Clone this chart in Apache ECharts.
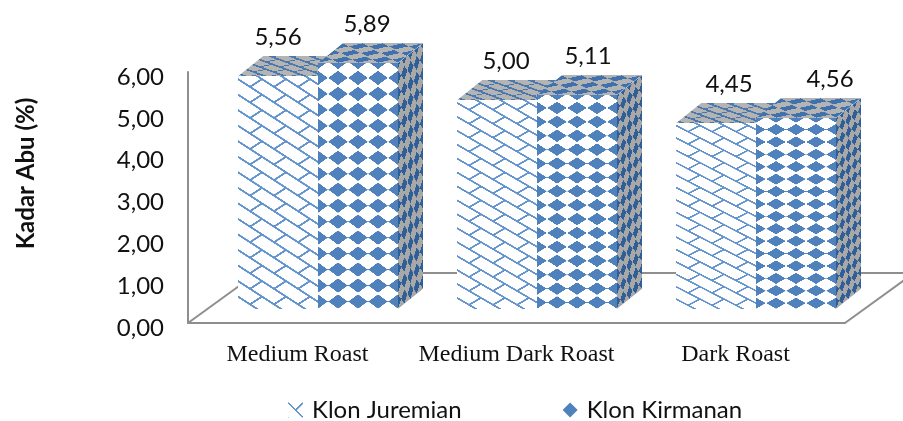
<!DOCTYPE html>
<html>
<head>
<meta charset="utf-8">
<style>html,body{margin:0;padding:0;background:#fff}#chart{width:903px;height:421px}</style>
<script src="https://cdn.jsdelivr.net/npm/echarts@6/dist/echarts.min.js"></script>
</head>
<body>
<div id="chart"></div>
<script>
// Ash content per roast level, one array per coffee clone
const categories = ['Medium Roast', 'Medium Dark Roast', 'Dark Roast'];
const klonJuremian = [5.56, 5.00, 4.45];
const klonKirmanan = [5.89, 5.11, 4.56];
const seriesNames = ['Klon Juremian', 'Klon Kirmanan'];

// Hand placement of the value labels, relative to each bar's centre
const labelShiftJuremian = [0, 9, 13];
const labelShiftKirmanan = [9, 11, 34];

const FONT = 'Lato, sans-serif';
const INK = '#111111';
const AXIS = '#8e8e8e';
const BLUE = '#4f81bd';
const DARK_BLUE = '#2f5f96';
const SHADE = '#a8a8a8';

// Box projection: depth vector of the bars and their lift above the front floor edge
const DEPTH_X = 25, DEPTH_Y = 20, LIFT_X = 20, LIFT_Y = 14;
const BAR_RATIO = 80 / 219;
const FLOOR_X = 69, FLOOR_Y = 50;
const TILE = 96;

function newCanvas(w, h) {
  const c = document.createElement('canvas');
  c.width = Math.max(1, Math.ceil(w));
  c.height = Math.max(1, Math.ceil(h));
  return c;
}

// Rounded diamond on a square repeat, centred on the tile corners
function diamondTile(fg, bg) {
  const c = newCanvas(TILE, TILE), g = c.getContext('2d');
  g.fillStyle = bg;
  g.fillRect(0, 0, TILE, TILE);
  g.fillStyle = fg;
  const a = TILE * 0.49, b = TILE * 0.45, k = 0.48;
  [[0, 0], [TILE, 0], [0, TILE], [TILE, TILE]].forEach(function (p) {
    const x = p[0], y = p[1];
    g.beginPath();
    g.moveTo(x - a, y);
    g.quadraticCurveTo(x - a * k, y - b * k, x, y - b);
    g.quadraticCurveTo(x + a * k, y - b * k, x + a, y);
    g.quadraticCurveTo(x + a * k, y + b * k, x, y + b);
    g.quadraticCurveTo(x - a * k, y + b * k, x - a, y);
    g.fill();
  });
  return c;
}

// Diagonal brick hatch: long falling courses with short rising ties
function brickTile(fg, bg, weight) {
  const c = newCanvas(TILE, TILE), g = c.getContext('2d');
  g.fillStyle = bg;
  g.fillRect(0, 0, TILE, TILE);
  g.strokeStyle = fg;
  g.lineWidth = weight;
  for (let i = -1; i <= 1; i++) {
    for (let j = -1; j <= 1; j++) {
      const ox = i * TILE, oy = j * TILE;
      g.beginPath();
      g.moveTo(ox, oy);
      g.lineTo(ox + TILE, oy + TILE);
      g.moveTo(ox + TILE / 2, oy + TILE / 2);
      g.lineTo(ox + TILE, oy);
      g.stroke();
    }
  }
  return c;
}

const tiles = {
  diamondFront: diamondTile(BLUE, '#ffffff'),
  diamondTop: diamondTile('#3f72ac', '#b4b4b4'),
  diamondSide: diamondTile(DARK_BLUE, SHADE),
  brickFront: brickTile('#6394cd', '#ffffff', 10),
  brickTop: brickTile('#4a78ad', '#b4b4b4', 16)
};

// Paints a tile across one box face and returns it as a fill anchored at (x, y)
function faceFill(tile, x, y, cw, ch, matrix, w, h, tileW, tileH, phaseX, phaseY) {
  const c = newCanvas(cw, ch), g = c.getContext('2d');
  g.setTransform.apply(g, matrix);
  g.beginPath();
  g.rect(0, 0, w, h);
  g.clip();
  g.translate(phaseX, phaseY);
  g.scale(tileW / TILE, tileH / TILE);
  g.fillStyle = g.createPattern(tile, 'repeat');
  g.fillRect(-TILE * 2, -TILE * 2, (w / tileW + 4) * TILE, (h / tileH + 4) * TILE);
  return { image: c, repeat: 'no-repeat', x: x, y: y };
}

function valueText(v) {
  return v.toFixed(2).replace('.', ',');
}

function boxRenderer(slot, kind, rows, shifts) {
  return function (params, api) {
    const value = api.value(1);
    const top = api.coord([api.value(0), value]);
    const base = api.coord([api.value(0), 0]);
    const w = Math.round(api.size([1, 0])[0] * BAR_RATIO);
    const x0 = Math.round(top[0] + LIFT_X + slot * w);
    const y0 = Math.round(top[1] - LIFT_Y);
    const y1 = Math.round(base[1] - LIFT_Y);
    const h = y1 - y0;
    const rowH = h / rows;
    const colW = w / 4;
    const dx = DEPTH_X, dy = DEPTH_Y;
    const isDiamond = kind === 'diamond';
    const frontW = isDiamond ? colW : 24;
    const frontPhaseY = isDiamond ? rowH * 0.93 : rowH * 0.2;

    const front = faceFill(isDiamond ? tiles.diamondFront : tiles.brickFront,
      x0, y0, w, h, [1, 0, 0, 1, 0, 0], w, h, frontW, rowH, 0, frontPhaseY);
    const topFace = faceFill(isDiamond ? tiles.diamondTop : tiles.brickTop,
      x0, y0 - dy, w + dx, dy, [1, 0, -dx / dy, 1, dx, 0], w, dy,
      colW, dy / (isDiamond ? 3 : 4), 0, dy / 6);
    const side = faceFill(tiles.diamondSide,
      x0 + w, y0 - dy, dx, h + dy, [1, -dy / dx, 0, 1, 0, dy], dx, h,
      dx / 4, rowH, 0, frontPhaseY);

    const poly = function (points, fill) {
      return { type: 'polygon', shape: { points: points }, style: { fill: fill } };
    };
    return {
      type: 'group',
      children: [
        poly([[x0, y0], [x0 + w, y0], [x0 + w + dx, y0 - dy], [x0 + dx, y0 - dy]], topFace),
        poly([[x0 + w, y0], [x0 + w + dx, y0 - dy], [x0 + w + dx, y1 - dy], [x0 + w, y1]], side),
        { type: 'rect', shape: { x: x0, y: y0, width: w, height: h }, style: { fill: front } },
        {
          type: 'text',
          style: {
            text: valueText(value),
            x: x0 + w / 2 + shifts[params.dataIndex],
            y: y0 - 39,
            align: 'center',
            verticalAlign: 'middle',
            font: '24px ' + FONT,
            fill: INK
          }
        }
      ]
    };
  };
}

// Floor of the 3D plot: two receding edges and the rear edge behind the bars
function floorRenderer(params) {
  const r = params.coordSys;
  const left = r.x, right = r.x + r.width, bottom = r.y + r.height;
  const line = function (a, b, c, d) {
    return {
      type: 'line',
      shape: { x1: a, y1: b, x2: c, y2: d },
      style: { stroke: AXIS, lineWidth: 2, fill: null }
    };
  };
  return {
    type: 'group',
    children: [
      line(left, bottom, left + FLOOR_X, bottom - FLOOR_Y),
      line(right, bottom, right + FLOOR_X, bottom - FLOOR_Y),
      line(left + FLOOR_X, bottom - FLOOR_Y, right + FLOOR_X, bottom - FLOOR_Y)
    ]
  };
}

const pairs = function (values) {
  return values.map(function (v, i) { return [i, v]; });
};

const chart = echarts.init(document.getElementById('chart'), null, { renderer: 'canvas' });
chart.setOption({
  animation: false,
  backgroundColor: '#ffffff',
  grid: { left: 188, right: 58, top: 72, bottom: 98, outerBoundsMode: 'none' },
  legend: {
    left: 283,
    top: 393,
    itemWidth: 15,
    itemHeight: 15,
    itemGap: 101,
    selectedMode: false,
    textStyle: { fontFamily: FONT, fontSize: 24, color: INK, padding: [0, 0, 0, 4] },
    data: [
      {
        name: seriesNames[0],
        icon: 'rect',
        itemStyle: {
          color: { image: tiles.brickFront, repeat: 'repeat', scaleX: 0.16, scaleY: 0.16 }
        }
      },
      { name: seriesNames[1], icon: 'diamond', itemStyle: { color: BLUE } }
    ]
  },
  xAxis: {
    type: 'category',
    data: categories,
    axisLine: { lineStyle: { color: AXIS, width: 2 } },
    axisTick: { show: false },
    axisLabel: {
      interval: 0,
      margin: 20,
      fontFamily: '"Liberation Serif", serif',
      fontSize: 24,
      color: INK
    }
  },
  yAxis: {
    type: 'value',
    min: 0,
    max: 6,
    interval: 1,
    name: 'Kadar Abu (%)',
    nameLocation: 'middle',
    nameGap: 150,
    nameRotate: 90,
    nameTextStyle: {
      fontFamily: FONT,
      fontWeight: 'bold',
      fontSize: 24,
      color: INK,
      padding: [0, 0, 0, 48]
    },
    axisLine: { show: true, lineStyle: { color: AXIS, width: 2 } },
    axisTick: { show: false },
    splitLine: { show: false },
    axisLabel: {
      margin: 24,
      fontFamily: FONT,
      fontSize: 24,
      color: INK,
      verticalAlign: 'top',
      lineHeight: 10,
      formatter: valueText
    }
  },
  series: [
    {
      type: 'custom',
      name: 'Lantai',
      silent: true,
      renderItem: floorRenderer,
      data: [[0, 0]],
      z: 1
    },
    {
      type: 'custom',
      name: seriesNames[0],
      renderItem: boxRenderer(-1, 'brick', 15, labelShiftJuremian),
      data: pairs(klonJuremian),
      encode: { x: 0, y: 1 },
      itemStyle: { color: BLUE },
      z: 2
    },
    {
      type: 'custom',
      name: seriesNames[1],
      renderItem: boxRenderer(0, 'diamond', 15.4, labelShiftKirmanan),
      data: pairs(klonKirmanan),
      encode: { x: 0, y: 1 },
      itemStyle: { color: BLUE },
      z: 3
    }
  ]
});
</script>
</body>
</html>
